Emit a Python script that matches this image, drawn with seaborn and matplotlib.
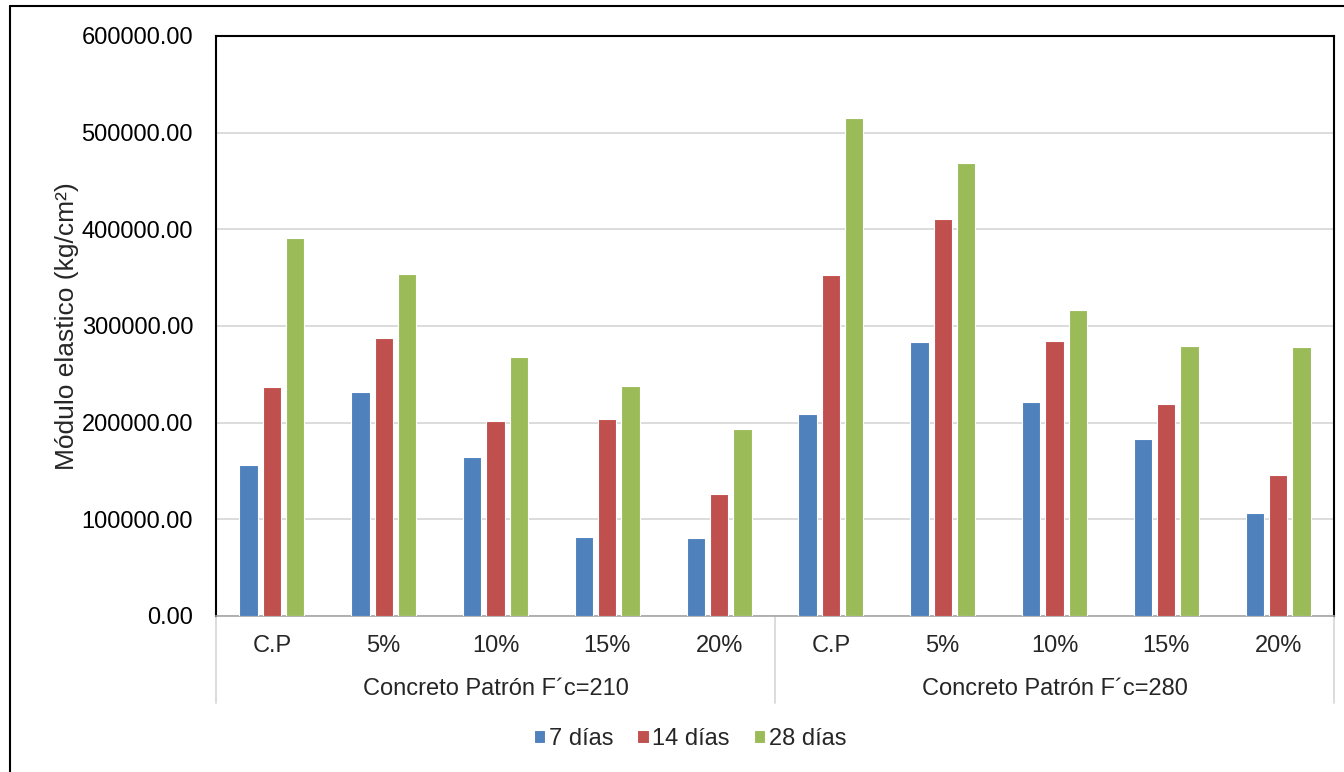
import numpy as np
import pandas as pd
import matplotlib
matplotlib.use("Agg")
import matplotlib.pyplot as plt
from matplotlib.lines import Line2D
from matplotlib.ticker import FormatStrFormatter
import seaborn as sns

# Mezclas ensayadas y series de edades
groups = ["Concreto Patrón F´c=210", "Concreto Patrón F´c=280"]
mixes = ["C.P", "5%", "10%", "15%", "20%"]
series = ["7 días", "14 días", "28 días"]

dias_7 = [155700, 231600, 164700, 82000, 80700,
          208700, 283700, 221000, 183100, 106800]
dias_14 = [236800, 287100, 202000, 204000, 126500,
           353100, 410900, 284900, 219300, 145800]
dias_28 = [391500, 354000, 268100, 237800, 193400,
           515400, 468800, 316300, 279800, 278400]

y_ticks = [0, 100000, 200000, 300000, 400000, 500000, 600000]
colors = ["#4F81BD", "#C0504D", "#9BBB59"]

# Tabla larga para seaborn
keys = [f"{g}|{m}" for g in groups for m in mixes]
rows = []
for s, vals in zip(series, [dias_7, dias_14, dias_28]):
    for k, v in zip(keys, vals):
        rows.append({"clave": k, "edad": s, "modulo": v})
df = pd.DataFrame(rows)

sns.set_style("white")
plt.rcParams["font.family"] = ["Liberation Sans", "DejaVu Sans"]
FS = 17

W, H = 1344, 772
fig = plt.figure(figsize=(W / 100, H / 100), dpi=100)
left, right, top, bottom = 216, 1334, 36, 616
ax = fig.add_axes([left / W, 1 - bottom / H, (right - left) / W, (bottom - top) / H])

sns.barplot(data=df, x="clave", y="modulo", hue="edad", order=keys,
            hue_order=series, palette=colors, errorbar=None,
            width=0.627, gap=0.215, edgecolor="white", linewidth=0.8,
            saturation=1, ax=ax, zorder=3)

ax.set_ylim(0, 600000)
ax.set_xlim(-0.5, len(keys) - 0.5)
ax.set_yticks(y_ticks)
ax.yaxis.set_major_formatter(FormatStrFormatter("%.2f"))
ax.tick_params(axis="y", length=0, pad=16.5, labelsize=FS, labelcolor="#000000")
ax.grid(axis="y", color="#d9d9d9", linewidth=1.3, zorder=0)
ax.set_axisbelow(True)

ax.set_xticks(range(len(keys)))
ax.set_xticklabels(mixes * 2)
ax.tick_params(axis="x", length=0, pad=14, labelsize=FS)
ax.set_xlabel("")
ax.set_ylabel("Módulo elastico (kg/cm²)", fontsize=19, labelpad=2)

for side in ["left", "top", "right"]:
    ax.spines[side].set_color("black")
    ax.spines[side].set_linewidth(1.5)
ax.spines["bottom"].set_color("#a6a6a6")
ax.spines["bottom"].set_linewidth(1.2)

# Separadores de la tabla de categorías
xt = ax.get_xaxis_transform()
sep_bottom = -(703 - 616) / (bottom - top)
for xs in [-0.5, 4.5, 9.5]:
    ax.add_line(Line2D([xs, xs], [0, sep_bottom], transform=xt,
                       color="#d9d9d9", linewidth=1.3, clip_on=False))

grp_y = -(689 - 616) / (bottom - top)
for i, g in enumerate(groups):
    ax.text(i * 5 + 2, grp_y, g, transform=xt, ha="center", va="center",
            fontsize=FS)

# Leyenda bajo el gráfico
handles, labels = ax.get_legend_handles_labels()
ax.get_legend().remove()
fig.legend(handles, labels, loc="center", bbox_to_anchor=(690 / W, 1 - 739 / H),
           ncol=3, frameon=False, fontsize=FS, handlelength=0.5,
           handleheight=0.5, handletextpad=0.15, columnspacing=1.0)

# Marco exterior
fig.add_artist(Line2D([10 / W, 10 / W], [0, 1 - 6 / H], transform=fig.transFigure,
                      color="black", linewidth=1.5))
fig.add_artist(Line2D([10 / W, 1], [1 - 6 / H, 1 - 6 / H], transform=fig.transFigure,
                      color="black", linewidth=1.5))

fig.savefig("out.png", dpi=100, facecolor="white")
